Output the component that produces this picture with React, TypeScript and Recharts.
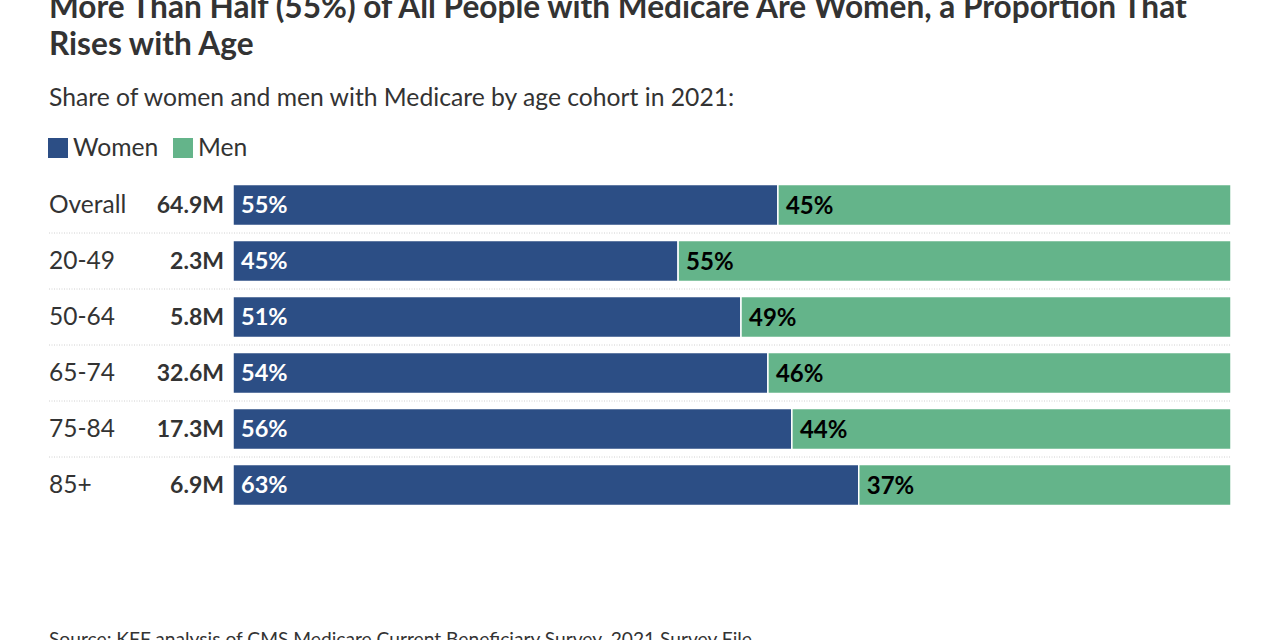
import React from "react";
import { BarChart, Bar, XAxis, YAxis, LabelList } from "recharts";

const categories = ["Overall", "20-49", "50-64", "65-74", "75-84", "85+"];
const totals = ["64.9M", "2.3M", "5.8M", "32.6M", "17.3M", "6.9M"];
const womenShare = [54.6, 44.6, 50.9, 53.6, 56.0, 62.7];
const menShare = [45.4, 55.4, 49.1, 46.4, 44.0, 37.3];
const seriesNames = ["Women", "Men"];

const WOMEN = "#2c4e85";
const MEN = "#64b48a";
const TEXT = "#333333";
const FONT = "Lato, 'Noto Sans', sans-serif";

const W = 1280;
const H = 640;
const LEFT = 49;
const RIGHT_MARGIN = 49;

const data = categories.map((c, i) => ({
  name: c,
  total: totals[i],
  women: womenShare[i],
  men: menShare[i],
}));

const YTick = (props: any) => {
  const { y, payload, index } = props;
  const idx = categories.indexOf(payload.value);
  const total = totals[idx >= 0 ? idx : index];
  return (
    <g>
      <text x={LEFT} y={y} dy={8.5} fontSize={24.5} fill={TEXT} fontFamily={FONT} textAnchor="start">
        {payload.value}
      </text>
      <text x={224} y={y} dy={8.5} fontSize={23} fontWeight={700} fill={TEXT} fontFamily={FONT} textAnchor="end">
        {total}
      </text>
    </g>
  );
};

const WomenShape = (props: any) => {
  const { x, y, width, height, index } = props;
  const sepY = y + height + 7.5;
  return (
    <g>
      <rect x={x} y={y} width={width} height={height} fill={WOMEN} stroke="#ffffff" strokeWidth={1.5} />
      {index < categories.length - 1 && (
        <line x1={LEFT} x2={W - RIGHT_MARGIN} y1={sepY} y2={sepY} stroke="#d0d0d0" strokeWidth={1} strokeDasharray="1 1.5" />
      )}
    </g>
  );
};

const fmt = (v: any) => `${Math.round(Number(v))}%`;

export default function App() {
  return (
    <div style={{ position: "absolute", left: 0, top: 0, width: W, height: H, background: "#fff", overflow: "hidden", fontFamily: FONT }}>
      <div style={{ position: "absolute", left: LEFT, top: -12.5, width: 1170, fontSize: 31.6, fontWeight: 700, lineHeight: "37px", color: TEXT }}>
        More Than Half (55%) of All People with Medicare Are Women, a Proportion That Rises with Age
      </div>
      <div style={{ position: "absolute", left: LEFT, top: 81.5, fontSize: 24.7, lineHeight: 1.2, color: TEXT, whiteSpace: "nowrap" }}>
        Share of women and men with Medicare by age cohort in 2021:
      </div>
      <div style={{ position: "absolute", left: 48, top: 138, width: 20, height: 20, background: WOMEN }} />
      <div style={{ position: "absolute", left: 73, top: 131.6, fontSize: 24.7, lineHeight: 1.2, color: TEXT }}>{seriesNames[0]}</div>
      <div style={{ position: "absolute", left: 173, top: 138, width: 20, height: 20, background: MEN }} />
      <div style={{ position: "absolute", left: 198, top: 131.6, fontSize: 24.7, lineHeight: 1.2, color: TEXT }}>{seriesNames[1]}</div>
      <div style={{ position: "absolute", left: LEFT, top: 627, fontSize: 19.2, lineHeight: 1.2, color: TEXT, whiteSpace: "nowrap" }}>
        Source: KFF analysis of CMS Medicare Current Beneficiary Survey, 2021 Survey File
      </div>
      <div style={{ position: "absolute", left: 0, top: 0 }}>
        <BarChart
          width={W}
          height={H}
          data={data}
          layout="vertical"
          margin={{ top: 176.5, right: RIGHT_MARGIN, bottom: 127.5, left: 0 }}
          barCategoryGap={15}
        >
          <XAxis type="number" domain={[0, 100]} hide />
          <YAxis type="category" dataKey="name" width={233} axisLine={false} tickLine={false} tick={<YTick />} interval={0} />
          <Bar dataKey="women" name={seriesNames[0]} stackId="a" fill={WOMEN} barSize={41} shape={<WomenShape />} isAnimationActive={false}>
            <LabelList dataKey="women" position="insideLeft" offset={8} formatter={fmt} fill="#ffffff" fontSize={23.5} fontWeight={700} fontFamily={FONT} />
          </Bar>
          <Bar dataKey="men" name={seriesNames[1]} stackId="a" fill={MEN} barSize={41} stroke="#ffffff" strokeWidth={1.5} isAnimationActive={false}>
            <LabelList dataKey="men" position="insideLeft" offset={8} formatter={fmt} fill="#000000" fontSize={24} fontWeight={700} fontFamily={FONT} />
          </Bar>
        </BarChart>
      </div>
    </div>
  );
}
